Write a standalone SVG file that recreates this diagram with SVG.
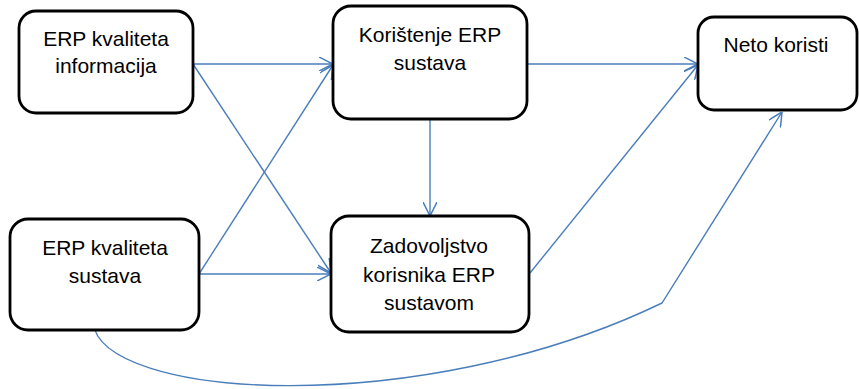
<svg xmlns="http://www.w3.org/2000/svg" width="859" height="389" viewBox="0 0 859 389">
<style>
.box{fill:#fff;stroke:#000;stroke-width:2.8}
.t{font-family:"Liberation Sans",Arial,sans-serif;font-size:21px;fill:#000;text-anchor:middle}
.c{fill:none;stroke:#4a7ebb;stroke-width:1.4;marker-end:url(#ah)}
</style>
<defs>
<marker id="ah" viewBox="0 0 12 12" refX="12" refY="6" markerUnits="userSpaceOnUse" markerWidth="14" markerHeight="14" orient="auto">
<path d="M0,0 L12,6 L0,12" fill="none" stroke="#4a7ebb" stroke-width="1.3"/>
</marker>
</defs>
<g id="connectors">
<path class="c" d="M193,64 L333,64"/>
<path class="c" d="M193,64 L331,273"/>
<path class="c" d="M199,274 L331,274"/>
<path class="c" d="M199,274 L333,65"/>
<path class="c" d="M430,119 L430,216"/>
<path class="c" d="M527,64 L698,64"/>
<path class="c" d="M530,273 L698,65"/>
<path class="c" d="M93,322 C100,400 420,420 662,303 L782,112"/>
</g>
<g id="n1">
<rect class="box" x="19" y="11" width="174" height="102" rx="17"/>
<text class="t" x="106" y="46">ERP kvaliteta</text>
<text class="t" x="106" y="73">informacija</text>
</g>
<g id="n2">
<rect class="box" x="333" y="6" width="194" height="113" rx="18"/>
<text class="t" x="430" y="42">Korištenje ERP</text>
<text class="t" x="430" y="70">sustava</text>
</g>
<g id="n3">
<rect class="box" x="698" y="17" width="159" height="93" rx="16"/>
<text class="t" x="776" y="52">Neto koristi</text>
</g>
<g id="n4">
<rect class="box" x="10" y="219" width="189" height="111" rx="18"/>
<text class="t" x="105" y="255">ERP kvaliteta</text>
<text class="t" x="105" y="283">sustava</text>
</g>
<g id="n5">
<rect class="box" x="331" y="216" width="198" height="116" rx="18"/>
<text class="t" x="429" y="253">Zadovoljstvo</text>
<text class="t" x="429" y="282">korisnika ERP</text>
<text class="t" x="429" y="310">sustavom</text>
</g>
</svg>
